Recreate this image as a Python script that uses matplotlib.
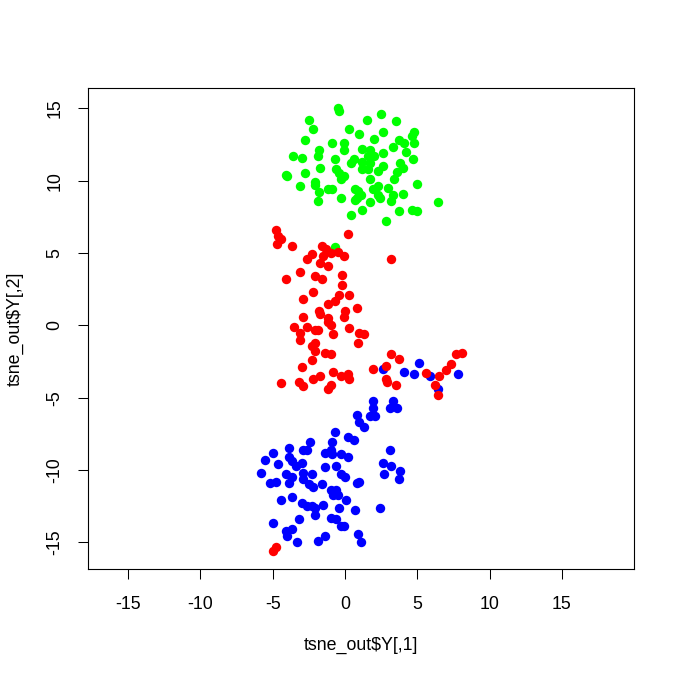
import matplotlib
matplotlib.use("Agg")
import matplotlib.pyplot as plt

plt.rcParams['font.family'] = ['Liberation Sans', 'DejaVu Sans']

# t-SNE coordinates
green_x = [-0.5, -0.4, -2.5, -2.2, 0.3, -2.8, -0.9, -0.1, -1.8, -3.6, -3.0, -1.9, -0.1,
           -0.7, 0.6, 0.4, -1.7, -0.6, -4.1, -4.0, -2.8, -0.4, -0.1, -0.3, -2.1, -3.1,
           -2.1, -1.2, -0.9, -1.8, -0.3, -1.9, 0.7, 0.7, 0.4, 2.5, 1.5, 3.5, 2.6, 1.0,
           4.8, 4.6, 2.0, 3.7, 4.1, 4.8, 3.3, 1.2, 1.7, 4.2, 2.6, 2.0, 1.6, 4.7, 1.2,
           1.7, 3.8, 2.6, 4.0, 1.2, 1.6, 2.3, 3.6, 3.4, 1.7, 5.0, 2.3, 3.0, 1.9, 0.9,
           1.1, 2.3, 4.0, 3.3, 0.8, 3.2, 1.7, 2.4, 6.4, 1.2, 3.7, 4.6, 5.0, 2.8, -0.7]
green_y = [15.0, 14.8, 14.2, 13.6, 13.6, 12.8, 12.6, 12.6, 12.1, 11.7, 11.6, 11.7, 12.1,
           11.5, 11.5, 11.2, 10.9, 10.8, 10.4, 10.3, 10.5, 10.5, 10.3, 10.1, 9.9, 9.6,
           9.7, 9.4, 9.4, 9.2, 8.8, 8.6, 9.4, 8.7, 7.6, 14.6, 14.2, 14.1, 13.4, 13.2,
           13.4, 13.1, 12.9, 12.8, 12.6, 12.6, 12.3, 12.2, 12.1, 12.0, 11.9, 11.7, 11.7,
           11.5, 11.3, 11.2, 11.2, 11.0, 10.9, 10.8, 10.8, 10.7, 10.6, 10.1, 10.1, 9.8,
           9.6, 9.5, 9.4, 9.3, 9.0, 9.0, 9.1, 9.0, 8.8, 8.6, 8.5, 8.8, 8.5, 8.0, 7.9,
           8.0, 7.9, 7.2, 5.4]

red_x = [-4.8, -4.6, -4.4, -4.7, -3.7, 0.2, -1.6, -1.3, -1.0, -0.5, -1.5, -0.1, -2.3,
         -2.6, -1.7, -1.2, -3.1, -0.2, -2.1, -1.6, -4.1, -0.2, -2.2, -2.9, -0.4, 0.3,
         -0.7, -1.2, 0.8, -1.8, 0.0, 3.2, -2.9, -1.7, -1.2, -0.1, -1.2, -1.0, -3.5,
         -2.6, -3.1, -2.1, -1.9, -0.8, 0.3, 1.0, 1.3, -3.1, -2.1, -2.3, -2.1, 0.9,
         -1.4, -1.0, -2.3, -3.0, 3.2, 1.9, 2.8, 3.7, -0.8, -0.3, 0.2, 0.3, 2.8, 2.9,
         3.5, -1.7, -2.2, -4.4, -3.2, -2.9, -1.0, -1.2, 5.6, 6.5, 7.0, 7.3, 7.7, 8.1,
         6.2, 6.4, -5.0, -4.8]
red_y = [6.6, 6.2, 6.0, 5.6, 5.5, 6.3, 5.5, 5.3, 5.0, 5.1, 4.8, 4.8, 4.9, 4.6, 4.3,
         4.1, 3.7, 3.5, 3.4, 3.2, 3.2, 2.8, 2.3, 1.8, 2.1, 2.1, 1.7, 1.5, 1.2, 1.0,
         1.0, 4.6, 0.6, 0.8, 0.5, 0.6, 0.2, 0.0, -0.1, -0.1, -0.5, -0.3, -0.3, -0.6,
         -0.2, -0.5, -0.6, -1.0, -1.2, -1.4, -1.8, -1.2, -1.9, -2.0, -2.4, -2.9, -2.0,
         -3.0, -2.8, -2.3, -3.2, -3.5, -3.4, -3.7, -3.7, -3.9, -4.1, -3.5, -3.7, -4.0,
         -3.9, -4.2, -4.1, -4.4, -3.3, -3.5, -3.1, -2.7, -2.0, -1.9, -4.1, -4.8,
         -15.6, -15.3]

blue_x = [2.6, 5.1, 4.1, 4.8, 5.9, 7.8, 6.4, 1.9, 3.3, 1.9, 3.1, 3.6, 0.8, 1.7, 2.1,
          1.0, 1.3, -0.7, 0.2, 0.6, -2.4, -0.9, -2.9, -2.6, -1.0, -1.4, -0.3, 0.2,
          3.1, -3.9, -5.0, -0.9, -5.5, -3.9, -3.7, -4.6, -3.0, -3.4, -0.6, -1.4,
          -5.8, -4.1, -3.7, -2.9, -2.3, -2.9, -0.3, -5.2, -4.8, -3.9, -2.5, -2.2,
          -1.6, -1.0, -0.6, -0.5, -0.8, -3.7, -4.4, 0.1, -3.0, -2.6, -2.3, -2.1,
          -1.5, -0.4, -2.1, -3.2, -1.0, -0.6, -0.3, -5.0, -3.7, -4.1, -4.0, -1.4,
          -3.3, -1.9, 2.6, 3.2, 3.8, 3.7, 2.7, 0.0, 0.8, 1.0, 0.7, 2.4, -0.1, 0.9,
          1.1]
blue_y = [-3.0, -2.6, -3.2, -3.4, -3.5, -3.4, -4.4, -5.2, -5.2, -5.7, -5.7, -5.7,
          -6.2, -6.3, -6.3, -6.7, -7.0, -7.4, -7.7, -7.9, -8.1, -8.1, -8.6, -8.6,
          -8.6, -8.8, -8.9, -9.1, -8.6, -8.5, -8.8, -8.9, -9.3, -9.1, -9.4, -9.6,
          -9.5, -9.7, -9.7, -9.8, -10.2, -10.3, -10.5, -10.2, -10.3, -10.6, -10.3,
          -10.9, -10.8, -10.9, -11.0, -11.2, -11.0, -11.4, -11.4, -11.7, -11.7,
          -11.9, -12.1, -12.1, -12.3, -12.5, -12.5, -12.6, -12.4, -12.6, -13.1,
          -13.4, -13.3, -13.4, -13.9, -13.7, -14.1, -14.2, -14.6, -14.6, -15.0,
          -14.9, -9.5, -9.7, -10.1, -10.6, -10.3, -10.5, -10.9, -10.8, -12.8,
          -12.6, -13.9, -14.4, -15.0]

ticks = [-15, -10, -5, 0, 5, 10, 15]
fs = 12.8

fig = plt.figure(figsize=(6.8, 6.8), dpi=100)
ax = fig.add_axes([88 / 680, 1 - 569.3 / 680, 546.3 / 680, 481 / 680])

dot = dict(s=46, marker='o', linewidths=0)
ax.scatter(green_x, green_y, color='#00ff00', **dot)
ax.scatter(blue_x, blue_y, color='#0000ff', **dot)
ax.scatter(red_x, red_y, color='#ff0000', **dot)

ax.set_xlim(-17.77, 20.0)
ax.set_ylim(-16.87, 16.39)
ax.set_xticks(ticks)
ax.set_yticks(ticks)
ax.set_xticklabels([str(t) for t in ticks])
ax.set_yticklabels([str(t) for t in ticks], rotation=90, va='center')

for s in ax.spines.values():
    s.set_linewidth(0.8)
    s.set_color('black')
ax.tick_params(direction='out', length=7.5, width=0.75, labelsize=fs, color='black')
ax.tick_params(axis='x', pad=11.5)
ax.tick_params(axis='y', pad=10)

ax.set_xlabel(r'tsne_out\$Y[,1]', fontsize=fs)
ax.set_ylabel(r'tsne_out\$Y[,2]', fontsize=fs)
ax.xaxis.set_label_coords(0.5, -0.14)
ax.yaxis.set_label_coords(-0.118, 0.5)

fig.savefig('out.png', dpi=100)
